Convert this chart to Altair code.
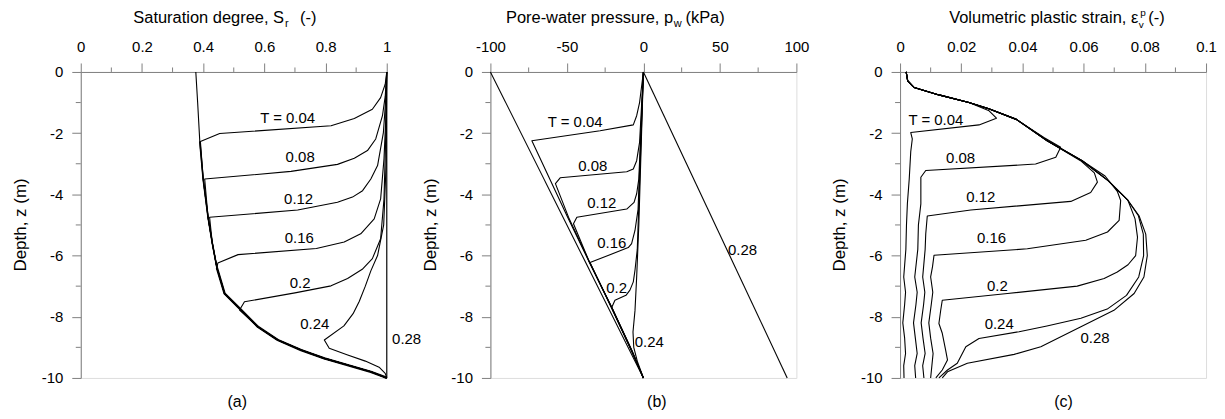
import altair as alt
import pandas as pd

FONT = "Liberation Sans"
GREY = "#808080"
T_LABELS = ["T = 0.04", "0.08", "0.12", "0.16", "0.2", "0.24", "0.28"]

# ---------------- Panel (a): saturation degree ----------------
A_ENV_SR = [0.376, 0.382, 0.389, 0.400, 0.416, 0.430, 0.445, 0.470, 0.514, 0.579, 0.644, 0.720, 0.796, 0.872, 0.948, 0.990, 1.000]
A_ENV_Z = [0.0, -1.0, -2.27, -3.5, -4.75, -5.6, -6.4, -7.24, -7.68, -8.33, -8.76, -9.09, -9.36, -9.58, -9.80, -9.96, -10.0]

A_T04_SR = [1.0, 0.995, 0.980, 0.953, 0.894, 0.818, 0.454, 0.391]
A_T04_Z = [0.0, -0.4, -0.84, -1.22, -1.52, -1.76, -2.01, -2.27]
A_T08_SR = [1.0, 0.995, 0.986, 0.964, 0.937, 0.894, 0.839, 0.687, 0.405]
A_T08_Z = [0.0, -0.8, -1.43, -2.19, -2.57, -2.82, -3.02, -3.25, -3.5]
A_T12_SR = [1.0, 0.996, 0.989, 0.970, 0.948, 0.921, 0.888, 0.839, 0.709, 0.421]
A_T12_Z = [0.0, -1.0, -1.98, -3.06, -3.5, -3.88, -4.09, -4.26, -4.51, -4.75]
A_T16_SR = [1.0, 0.997, 0.991, 0.980, 0.959, 0.915, 0.861, 0.770, 0.514, 0.448]
A_T16_Z = [0.0, -1.5, -2.84, -4.15, -4.80, -5.29, -5.56, -5.77, -5.97, -6.24]
A_T20_SR = [1.0, 0.997, 0.991, 0.980, 0.953, 0.920, 0.872, 0.818, 0.700, 0.535, 0.519]
A_T20_Z = [0.0, -2.0, -4.15, -5.45, -6.10, -6.45, -6.75, -6.99, -7.22, -7.51, -7.78]
A_T24_SR = [1.0, 0.998, 0.990, 0.970, 0.948, 0.930, 0.910, 0.890, 0.860, 0.796, 0.812, 0.870, 0.930, 0.975, 0.995, 1.0]
A_T24_Z = [0.0, -3.0, -5.0, -6.0, -6.5, -7.0, -7.5, -7.9, -8.3, -8.76, -9.03, -9.24, -9.45, -9.65, -9.85, -10.0]
A_T28_SR = [1.0, 1.0]
A_T28_Z = [0.0, -10.0]
A_LAB_SR = [0.676, 0.717, 0.712, 0.714, 0.717, 0.765, 1.065]
A_LAB_Z = [-1.49, -2.79, -4.15, -5.44, -6.91, -8.24, -8.74]

# ---------------- Panel (b): pore-water pressure ----------------
B_T00_P = [-100.0, 0.0]
B_T00_Z = [0.0, -10.0]
B_T04_P = [0.0, -2.5, -4.4, -6.6, -28.3, -72.9, -49.5, -35.5, -20.6, -7.5, 0.0]
B_T04_Z = [0.0, -1.0, -1.43, -1.73, -1.92, -2.25, -4.75, -6.2, -7.7, -9.1, -10.0]
B_T08_P = [0.0, -2.5, -4.4, -6.6, -10.9, -54.4, -57.5, -48.5, -35.3, -20.7, -7.6, 0.0]
B_T08_Z = [0.0, -2.3, -2.9, -3.17, -3.26, -3.46, -3.65, -4.8, -6.2, -7.7, -9.1, -10.0]
B_T12_P = [0.0, -3.0, -4.4, -6.1, -10.9, -43.5, -45.7, -35.4, -20.8, -7.7, 0.0]
B_T12_Z = [0.0, -3.5, -3.98, -4.26, -4.48, -4.75, -4.96, -6.2, -7.7, -9.1, -10.0]
B_T16_P = [0.0, -3.5, -5.5, -7.7, -9.9, -34.9, -21.0, -7.8, 0.0]
B_T16_Z = [0.0, -4.5, -5.18, -5.61, -5.74, -6.23, -7.7, -9.1, -10.0]
B_T20_P = [0.0, -4.0, -5.5, -6.6, -8.8, -11.4, -18.6, -20.7, -7.9, 0.0]
B_T20_Z = [0.0, -5.8, -6.48, -6.86, -7.13, -7.30, -7.46, -7.70, -9.1, -10.0]
B_T24_P = [0.0, -3.0, -4.4, -5.5, -6.8, -6.3, -4.0, 0.0]
B_T24_Z = [0.0, -5.0, -6.7, -7.8, -8.5, -9.0, -9.45, -10.0]
B_T28_P = [0.0, 94.0]
B_T28_Z = [0.0, -10.0]
B_LAB_P = [-44.6, -33.1, -27.2, -20.7, -17.5, 3.8, 64.8]
B_LAB_Z = [-1.63, -3.09, -4.29, -5.58, -7.06, -8.82, -5.83]

# ---------------- Panel (c): volumetric plastic strain ----------------
C_T04_E = [0.0020, 0.0025, 0.0046, 0.0127, 0.0225, 0.0291, 0.0315, 0.0258, 0.0035, 0.0040, 0.0035, 0.0030, 0.0024,
           0.0021, 0.0019, 0.0012, 0.0018, 0.0015, 0.0009, 0.0015, 0.0018, 0.0012, 0.0013]
C_T04_Z = [0.0, -0.29, -0.51, -0.75, -1.0, -1.27, -1.51, -1.73, -1.98, -2.19, -2.6, -3.5, -4.3,
           -5.0, -5.8, -6.7, -7.2, -7.6, -8.2, -8.7, -9.2, -9.6, -10.0]
C_T08_E = [0.0020, 0.0025, 0.0046, 0.0127, 0.0225, 0.0290, 0.0380, 0.0470, 0.0525, 0.0509, 0.0443, 0.0084, 0.0068,
           0.0068, 0.0060, 0.0058, 0.0048, 0.0056, 0.0052, 0.0044, 0.0050, 0.0056, 0.0048, 0.0051]
C_T08_Z = [0.0, -0.29, -0.51, -0.75, -1.0, -1.2, -1.55, -2.14, -2.46, -2.79, -3.01, -3.22, -3.44,
           -4.31, -5.0, -5.8, -6.7, -7.2, -7.6, -8.2, -8.7, -9.2, -9.6, -10.0]
C_T12_E = [0.0020, 0.0025, 0.0046, 0.0127, 0.0225, 0.0290, 0.0380, 0.0481, 0.0590, 0.0635, 0.0645, 0.0623, 0.0558,
           0.0231, 0.0089, 0.0084, 0.0082, 0.0074, 0.0081, 0.0077, 0.0069, 0.0075, 0.0082, 0.0074, 0.0078]
C_T12_Z = [0.0, -0.29, -0.51, -0.75, -1.0, -1.2, -1.55, -2.25, -2.9, -3.3, -3.6, -3.94, -4.23,
           -4.51, -4.71, -5.29, -5.8, -6.7, -7.2, -7.6, -8.2, -8.7, -9.2, -9.6, -10.0]
C_T16_E = [0.0020, 0.0025, 0.0046, 0.0127, 0.0225, 0.0290, 0.0380, 0.0481, 0.0595, 0.0670, 0.0710, 0.0721, 0.0716,
           0.0678, 0.0607, 0.0416, 0.0111, 0.0106, 0.0100, 0.0107, 0.0102, 0.0094, 0.0100, 0.0108, 0.0104, 0.0100]
C_T16_Z = [0.0, -0.29, -0.51, -0.75, -1.0, -1.2, -1.55, -2.25, -2.9, -3.4, -3.9, -4.2, -4.85,
           -5.23, -5.5, -5.78, -5.99, -6.37, -6.7, -7.2, -7.6, -8.2, -8.7, -9.2, -9.6, -10.0]
C_T20_E = [0.0020, 0.0025, 0.0046, 0.0127, 0.0225, 0.0290, 0.0380, 0.0481, 0.0595, 0.0680, 0.0745, 0.0768, 0.0776,
           0.0770, 0.0745, 0.0710, 0.0667, 0.0579, 0.0351, 0.0138, 0.0133, 0.0127, 0.0138, 0.0149, 0.0155, 0.0138, 0.0117]
C_T20_Z = [0.0, -0.29, -0.51, -0.75, -1.0, -1.2, -1.55, -2.25, -2.9, -3.55, -4.2, -4.8, -5.4,
           -6.0, -6.3, -6.54, -6.75, -7.0, -7.24, -7.46, -7.78, -8.22, -8.54, -9.09, -9.41, -9.74, -10.0]
C_T24_E = [0.0020, 0.0025, 0.0046, 0.0127, 0.0225, 0.0290, 0.0380, 0.0481, 0.0595, 0.0680, 0.0745, 0.0779, 0.0795,
           0.0796, 0.0780, 0.0740, 0.0677, 0.0591, 0.0480, 0.0389, 0.0258, 0.0215, 0.0198, 0.0187, 0.0155, 0.0127]
C_T24_Z = [0.0, -0.29, -0.51, -0.75, -1.0, -1.2, -1.55, -2.25, -2.9, -3.55, -4.2, -4.7, -5.3,
           -6.0, -6.7, -7.3, -7.75, -8.05, -8.3, -8.49, -8.71, -8.98, -9.31, -9.52, -9.74, -10.0]
C_T28_E = [0.0020, 0.0025, 0.0046, 0.0127, 0.0225, 0.0290, 0.0380, 0.0481, 0.0595, 0.0680, 0.0745, 0.0781, 0.0803,
           0.0808, 0.0797, 0.0765, 0.0699, 0.0591, 0.0460, 0.0373, 0.0220, 0.0155, 0.0138]
C_T28_Z = [0.0, -0.29, -0.51, -0.75, -1.0, -1.2, -1.55, -2.25, -2.9, -3.55, -4.2, -4.7, -5.3,
           -6.0, -6.7, -7.24, -7.79, -8.33, -8.98, -9.23, -9.52, -9.8, -10.0]
C_LAB_E = [0.0117, 0.0198, 0.0264, 0.0299, 0.0318, 0.0324, 0.0637]
C_LAB_Z = [-1.57, -2.81, -4.09, -5.44, -7.0, -8.24, -8.68]

# axis tick values
A_MAJOR = [0, 0.2, 0.4, 0.6, 0.8, 1]
A_MINOR = [0.1, 0.3, 0.5, 0.7, 0.9]
B_MAJOR = [-100, -50, 0, 50, 100]
B_MINOR = [-75, -25, 25, 75]
C_MAJOR = [0, 0.02, 0.04, 0.06, 0.08, 0.1]
C_MINOR = [0.01, 0.03, 0.05, 0.07, 0.09]
Z_MAJOR = [0, -2, -4, -6, -8, -10]
Z_MINOR = [-1, -3, -5, -7, -9]


def with_envelope(xs, zs, ex, ez):
    zmeet = zs[-1]
    tail = [(x, z) for x, z in zip(ex, ez) if z < zmeet - 1e-9]
    return xs + [t[0] for t in tail], zs + [t[1] for t in tail]


def make_df(curves):
    rows = []
    for name, xs, zs in curves:
        for i, (x, z) in enumerate(zip(xs, zs)):
            rows.append({"curve": name, "i": i, "x": x, "z": z})
    return pd.DataFrame(rows)


curves_a = [("T0", A_ENV_SR, A_ENV_Z)]
for nm, xs, zs in [("T04", A_T04_SR, A_T04_Z), ("T08", A_T08_SR, A_T08_Z), ("T12", A_T12_SR, A_T12_Z),
                   ("T16", A_T16_SR, A_T16_Z), ("T20", A_T20_SR, A_T20_Z)]:
    fx, fz = with_envelope(xs, zs, A_ENV_SR, A_ENV_Z)
    curves_a.append((nm, fx, fz))
curves_a += [("T24", A_T24_SR, A_T24_Z), ("T28", A_T28_SR, A_T28_Z)]

# sections of the envelope where several curves lie on top of each other
env_mid = [(x, z) for x, z in zip(A_ENV_SR, A_ENV_Z) if -6.4 <= z <= -2.27]
env_low = [(x, z) for x, z in zip(A_ENV_SR, A_ENV_Z) if z <= -6.4]
overlap_a = [("mid", [p[0] for p in env_mid], [p[1] for p in env_mid]),
             ("low", [p[0] for p in env_low], [p[1] for p in env_low])]

curves_b = [("T0", B_T00_P, B_T00_Z), ("T04", B_T04_P, B_T04_Z), ("T08", B_T08_P, B_T08_Z),
            ("T12", B_T12_P, B_T12_Z), ("T16", B_T16_P, B_T16_Z), ("T20", B_T20_P, B_T20_Z),
            ("T24", B_T24_P, B_T24_Z), ("T28", B_T28_P, B_T28_Z)]

curves_c = [("T04", C_T04_E, C_T04_Z), ("T08", C_T08_E, C_T08_Z), ("T12", C_T12_E, C_T12_Z),
            ("T16", C_T16_E, C_T16_Z), ("T20", C_T20_E, C_T20_Z), ("T24", C_T24_E, C_T24_Z),
            ("T28", C_T28_E, C_T28_Z)]

ONE = pd.DataFrame({"a": [0]})


def txt(text, x, y, size, align="left", baseline="alphabetic", angle=0):
    kw = dict(text=text, font=FONT, fontSize=size, align=align, baseline=baseline, color="black")
    if angle:
        kw["angle"] = angle
    return alt.Chart(ONE).mark_text(**kw).encode(x=alt.value(x), y=alt.value(y))


def panel(curves, lab_x, lab_z, xdom, xmajor, xminor, title_parts, tag, tag_x, overlap=None):
    sx = alt.Scale(domain=xdom, nice=False, zero=False)
    sy = alt.Scale(domain=[-10, 0], nice=False, zero=False)
    common = dict(tickColor=GREY, domainColor=GREY, tickSize=9, labelPadding=9, labelFont=FONT,
                  labelFontSize=15, labelColor="black", labelExpr="datum.value + ''", title=None,
                  grid=False, labelFlush=False, labelOverlap=False, tickWidth=1, domainWidth=1)
    xaxis = alt.Axis(orient="top", values=xmajor, **common)
    yaxis = alt.Axis(orient="left", values=Z_MAJOR, **common)
    lines = alt.Chart(make_df(curves)).mark_line(color="black", strokeWidth=1.1, strokeJoin="round").encode(
        x=alt.X("x:Q", scale=sx, axis=xaxis),
        y=alt.Y("z:Q", scale=sy, axis=yaxis),
        detail="curve:N",
        order="i:Q",
    )
    layers = [lines]
    if overlap:
        for (nm, xs, zs), w in zip(overlap, [1.6, 2.4]):
            layers.append(alt.Chart(make_df([(nm, xs, zs)])).mark_line(
                color="black", strokeWidth=w, strokeJoin="round").encode(
                x=alt.X("x:Q", scale=sx), y=alt.Y("z:Q", scale=sy), order="i:Q"))
    mx = alt.Chart(pd.DataFrame({"x": xminor})).mark_rule(color=GREY, strokeWidth=1).encode(
        x=alt.X("x:Q", scale=sx), y=alt.value(-4.5), y2=alt.value(0))
    my = alt.Chart(pd.DataFrame({"z": Z_MINOR})).mark_rule(color=GREY, strokeWidth=1).encode(
        y=alt.Y("z:Q", scale=sy), x=alt.value(-5), x2=alt.value(0))
    labels = alt.Chart(pd.DataFrame({"x": lab_x, "z": lab_z, "label": T_LABELS})).mark_text(
        font=FONT, fontSize=15, color="black", align="center", baseline="middle").encode(
        x=alt.X("x:Q", scale=sx), y=alt.Y("z:Q", scale=sy), text="label:N")
    titles = [txt(*p) for p in title_parts]
    ytitle = txt("Depth, z (m)", -60, 153.5, 17, align="center", baseline="middle", angle=270)
    tagm = txt(tag, tag_x, 331, 16, align="center", baseline="middle")
    return alt.layer(*layers, mx, my, labels, ytitle, tagm, *titles).properties(width=307, height=307)


pa = panel(curves_a, A_LAB_SR, A_LAB_Z, [0, 1], A_MAJOR, A_MINOR,
           [("Saturation degree, S", 204, -49, 16.5, "right"), ("r", 205, -45, 11), ("(-)", 220, -49, 16.5)],
           "(a)", 157, overlap=overlap_a)
pb = panel(curves_b, B_LAB_P, B_LAB_Z, [-100, 100], B_MAJOR, B_MINOR,
           [("Pore-water pressure, p", 183.3, -49, 16.5, "right"), ("w", 184, -45, 11), ("(kPa)", 195.7, -49, 16.5)],
           "(b)", 167)
pc = panel(curves_c, C_LAB_E, C_LAB_Z, [0, 0.1], C_MAJOR, C_MINOR,
           [("Volumetric plastic strain, \u03b5", 239, -49, 16.5, "right"), ("v", 239.5, -44, 10),
            ("p", 241, -56, 10), ("(-)", 249, -49, 16.5)],
           "(c)", 164)

chart = alt.hconcat(pa, pb, pc, spacing=104, bounds="flush").properties(
    padding={"left": 3, "top": -1.5, "right": 0, "bottom": 0}
).configure_view(stroke=None).configure(background="white")

chart.save("out.html", embed_options={"renderer": "svg", "actions": False})
